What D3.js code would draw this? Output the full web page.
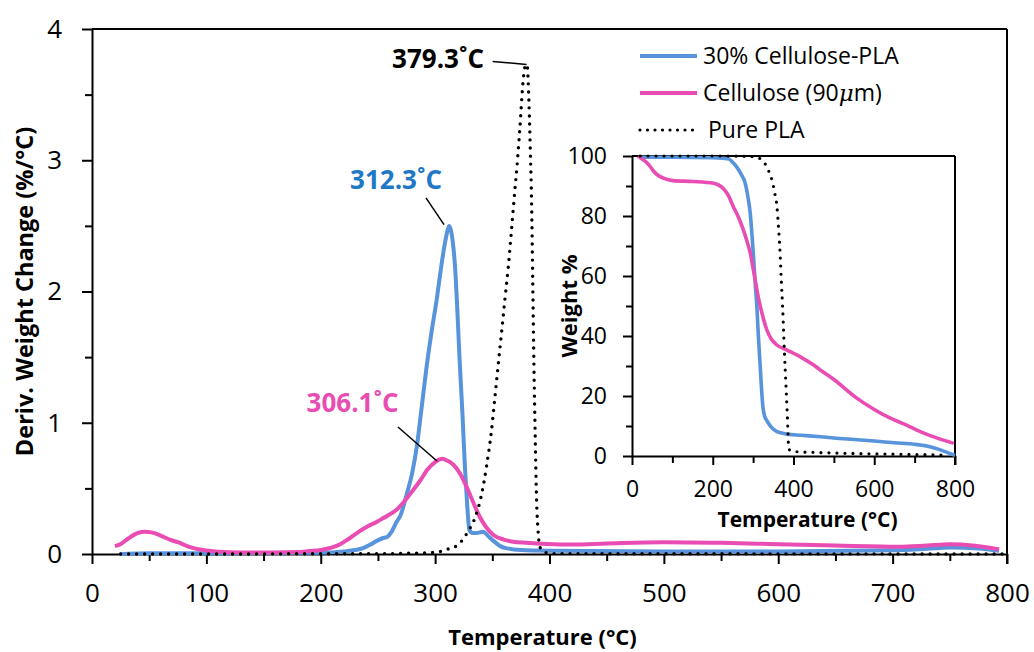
<!DOCTYPE html>
<html>
<head>
<meta charset="utf-8">
<script src="https://d3js.org/d3.v7.min.js"></script>
<style>
  body { margin: 0; background: #fff; }
  svg text { font-family: "Open Sans", "Noto Sans", sans-serif; fill: #000; }
  .axis path, .axis line { stroke: #000; stroke-width: 2; }
</style>
</head>
<body>
<script>
// ---- data ----
const seriesNames = ["30% Cellulose-PLA", "Cellulose (90μm)", "Pure PLA"];

// DTG curves: [temperature °C, deriv. weight change %/°C]
const dtgBlendT = [25, 50, 100, 150, 200, 220, 230, 237, 243, 249, 254, 258, 262, 266, 270, 275, 280, 284, 288, 292.6, 297, 301.4, 305, 308.6, 311, 312.3, 314, 317.4, 321.7, 324, 326, 328, 330, 333, 336, 342, 346, 351, 357, 363, 375, 400, 500, 600, 700, 730, 750, 775, 793];
const dtgBlendV = [0, 0.005, 0.005, 0.008, 0.01, 0.02, 0.03, 0.045, 0.07, 0.1, 0.12, 0.13, 0.17, 0.24, 0.3, 0.45, 0.62, 0.82, 1.1, 1.43, 1.7, 1.94, 2.17, 2.37, 2.47, 2.5, 2.46, 2.19, 1.43, 1.05, 0.67, 0.38, 0.18, 0.16, 0.16, 0.17, 0.14, 0.1, 0.06, 0.043, 0.03, 0.025, 0.02, 0.02, 0.028, 0.04, 0.05, 0.042, 0.025];

const dtgCellT = [20, 25, 32, 40, 46, 52, 60, 68, 75, 85, 97, 110, 130, 160, 180, 190, 200, 210, 217, 223, 230, 237, 243, 248, 252, 258, 266, 273, 281, 287, 293, 300, 306.1, 311, 316, 322, 327.6, 333, 339, 345, 351, 360, 368, 380, 398, 420, 450, 500, 550, 600, 650, 706, 730, 750, 770, 785, 793];
const dtgCellV = [0.06, 0.075, 0.12, 0.16, 0.17, 0.165, 0.14, 0.11, 0.09, 0.055, 0.03, 0.018, 0.012, 0.012, 0.015, 0.022, 0.03, 0.05, 0.075, 0.107, 0.15, 0.19, 0.22, 0.24, 0.26, 0.29, 0.335, 0.4, 0.49, 0.56, 0.64, 0.7, 0.725, 0.71, 0.68, 0.61, 0.51, 0.4, 0.284, 0.2, 0.145, 0.11, 0.094, 0.085, 0.076, 0.072, 0.08, 0.09, 0.085, 0.075, 0.065, 0.056, 0.065, 0.074, 0.065, 0.048, 0.036];

const dtgPlaT = [25, 100, 200, 260, 280, 295, 305, 312, 320, 328, 335, 340, 345, 349, 352, 355, 358, 361, 364, 366.5, 369, 372, 374, 377, 379.3, 380.5, 382, 383.3, 384.3, 385.4, 386.4, 387.5, 388.7, 390, 391, 393, 397, 405, 500, 800];
const dtgPlaV = [0, 0, 0.002, 0.003, 0.006, 0.01, 0.02, 0.04, 0.07, 0.16, 0.28, 0.43, 0.67, 0.92, 1.17, 1.43, 1.68, 1.94, 2.19, 2.44, 2.7, 3.0, 3.23, 3.61, 3.73, 3.72, 3.45, 3.05, 2.7, 2.05, 1.43, 0.9, 0.41, 0.18, 0.08, 0.03, 0.01, 0.003, 0.002, 0];

// TGA curves (inset): [temperature °C, weight %]
const tgaBlendT = [25, 100, 200, 240, 250, 260, 270, 280.4, 287, 292.8, 297, 301, 305, 309.3, 313, 317.6, 321, 324.2, 328, 334, 345, 359, 384, 420, 467, 500, 550, 600, 650, 700, 730, 760, 780, 800];
const tgaBlendV = [99.6, 99.6, 99.4, 99, 97.8, 96.2, 94, 90.9, 86.5, 80.9, 74, 66.4, 58, 49.8, 40, 29.8, 22, 16.4, 13.5, 11.8, 9.6, 8.1, 7.3, 6.9, 6.4, 6.0, 5.5, 5.0, 4.4, 3.9, 3.3, 2.2, 1.2, 0.2];

const tgaCellT = [15, 25, 35, 45, 53, 65, 78, 102, 150, 202, 215, 226, 238, 251, 264, 276, 285, 293, 300, 305, 312, 318, 326, 334, 345, 359, 384, 420, 450, 467, 500, 557.6, 600, 640, 680, 723, 760, 797];
const tgaCellV = [100, 99, 98, 96.5, 95, 93.5, 92.6, 91.8, 91.5, 90.9, 90.3, 89.2, 87, 83.1, 79.5, 75.3, 71.5, 67.6, 62.5, 58.7, 53.5, 49.8, 45.5, 42, 39, 37, 35.3, 32.8, 30.3, 28.6, 25.5, 19.2, 15.5, 12.6, 10.3, 7.6, 5.8, 4.2];

const tgaPlaT = [20, 100, 200, 300, 315, 326, 337, 346.5, 353, 359, 363, 367.2, 370, 373, 375.5, 378, 381, 383.8, 386, 388, 392, 400, 450, 500, 600, 700, 780];
const tgaPlaV = [100, 100, 100, 99.8, 99.3, 98.1, 95.5, 92, 88, 83.1, 76, 66.4, 58, 49.8, 41.5, 33.1, 24.5, 16.4, 9, 2.6, 1.8, 1.5, 1.2, 1.0, 0.7, 0.5, 0.3];

// peak labels: [text, label T, label value, leader from T, from value, to T, to value]
const peakLabels = [
  ["379.3˚C", 342.7, 3.70, 350.3, 3.752, 380, 3.73],
  ["312.3˚C", 265.8, 2.78, 292, 2.713, 307.8, 2.51],
  ["306.1˚C", 227.8, 1.082, 267.5, 0.968, 301.6, 0.709]
];

const mainXTicks = [0, 100, 200, 300, 400, 500, 600, 700, 800];
const mainYTicks = [0, 1, 2, 3, 4];
const insetXTicks = [0, 200, 400, 600, 800];
const insetYTicks = [0, 20, 40, 60, 80, 100];

// ---- drawing ----
const blue = "#5894DB", pink = "#E94DB3", blueText = "#1F78C6";
const colors = [blue, pink, "#000"];
const labelColors = ["#000", blueText, pink];
const fmt = d3.format("d");

const svg = d3.select("body").append("svg")
  .attr("width", 1034).attr("height", 652);

const x = d3.scaleLinear().domain([0, 800]).range([92, 1007]);
const y = d3.scaleLinear().domain([0, 4]).range([554, 29]);
const xi = d3.scaleLinear().domain([0, 800]).range([632, 955]);
const yi = d3.scaleLinear().domain([0, 100]).range([456, 156]);

function zip(t, v) { return t.map((d, i) => [d, v[i]]); }

// main axes
const gx = svg.append("g").attr("class", "axis")
  .attr("transform", "translate(0,554)")
  .call(d3.axisBottom(x).tickValues(mainXTicks).tickFormat(fmt).tickSize(10).tickSizeOuter(0).tickPadding(20));
svg.append("g").attr("class", "axis")
  .attr("transform", "translate(0,554)")
  .call(d3.axisBottom(x).tickValues(d3.range(50, 800, 100)).tickSize(7).tickFormat(""))
  .select(".domain").remove();
const gy = svg.append("g").attr("class", "axis")
  .attr("transform", "translate(92,0)")
  .call(d3.axisLeft(y).tickValues(mainYTicks).tickFormat(fmt).tickSize(10).tickSizeOuter(0).tickPadding(20));
svg.append("g").attr("class", "axis")
  .attr("transform", "translate(92,0)")
  .call(d3.axisLeft(y).tickValues([0.5, 1.5, 2.5, 3.5]).tickSize(7).tickFormat(""))
  .select(".domain").remove();
[gx, gy].forEach(g => g.selectAll("text").attr("font-size", 26).attr("font-family", "Open Sans"));

// frame top and right
svg.append("line").attr("x1", x(0)).attr("x2", x(800)).attr("y1", y(4)).attr("y2", y(4))
  .attr("stroke", "#000").attr("stroke-width", 2);
svg.append("line").attr("x1", x(800)).attr("x2", x(800)).attr("y1", y(4)).attr("y2", y(0) + 10)
  .attr("stroke", "#000").attr("stroke-width", 2);

// axis titles
svg.append("text").attr("x", (x(0) + x(800)) / 2 - 7).attr("y", 645)
  .attr("text-anchor", "middle").attr("font-weight", "bold").attr("font-size", 22)
  .text("Temperature (°C)");
svg.append("text").attr("transform", "translate(33," + ((y(0) + y(4)) / 2) + ") rotate(-90)")
  .attr("text-anchor", "middle").attr("font-weight", "bold").attr("font-size", 23.5)
  .text("Deriv. Weight Change (%/°C)");

// main curves
const line = d3.line().x(d => x(d[0])).y(d => y(d[1])).curve(d3.curveMonotoneX);
const dtg = [zip(dtgBlendT, dtgBlendV), zip(dtgCellT, dtgCellV), zip(dtgPlaT, dtgPlaV)];
dtg.forEach((data, i) => {
  const p = svg.append("path").datum(data).attr("d", line)
    .attr("fill", "none").attr("stroke", colors[i]);
  if (i == 2) p.attr("stroke-width", 3.4).attr("stroke-dasharray", "0 8").attr("stroke-linecap", "round");
  else p.attr("stroke-width", 4).attr("stroke-linejoin", "round");
});

// peak labels
peakLabels.forEach((d, i) => {
  svg.append("line")
    .attr("x1", x(d[3])).attr("y1", y(d[4])).attr("x2", x(d[5])).attr("y2", y(d[6]))
    .attr("stroke", "#000").attr("stroke-width", 1.5);
  svg.append("text").attr("x", x(d[1])).attr("y", y(d[2]))
    .attr("text-anchor", i == 0 ? "end" : "middle")
    .attr("font-weight", "bold").attr("font-size", 26)
    .style("fill", labelColors[i]).text(d[0]);
});

// legend
const legend = svg.append("g");
seriesNames.forEach((name, i) => {
  const ly = 56 + i * 37;
  const l = legend.append("line").attr("x1", 640).attr("x2", 697).attr("y1", ly).attr("y2", ly)
    .attr("stroke", colors[i]);
  if (i == 2) l.attr("stroke-width", 3.2).attr("stroke-dasharray", "0 7.5").attr("stroke-linecap", "round");
  else l.attr("stroke-width", 4);
  const t = legend.append("text").attr("x", i == 2 ? 708 : 703).attr("y", ly + 8).attr("font-size", 23);
  if (i == 1) {
    t.append("tspan").text("Cellulose (90");
    t.append("tspan").attr("font-style", "italic").attr("font-family", "DejaVu Serif").text("μ");
    t.append("tspan").text("m)");
  } else t.text(name);
});

// inset
const ix = svg.append("g").attr("class", "axis")
  .attr("transform", "translate(0,456)")
  .call(d3.axisBottom(xi).tickValues(insetXTicks).tickFormat(fmt).tickSize(9).tickSizeOuter(0).tickPadding(16));
svg.append("g").attr("class", "axis")
  .attr("transform", "translate(0,456)")
  .call(d3.axisBottom(xi).tickValues([100, 300, 500, 700]).tickSize(7).tickFormat(""))
  .select(".domain").remove();
const iy = svg.append("g").attr("class", "axis")
  .attr("transform", "translate(632,0)")
  .call(d3.axisLeft(yi).tickValues(insetYTicks).tickFormat(fmt).tickSize(9).tickSizeOuter(0).tickPadding(16));
svg.append("g").attr("class", "axis")
  .attr("transform", "translate(632,0)")
  .call(d3.axisLeft(yi).tickValues([10, 30, 50, 70, 90]).tickSize(6).tickFormat(""))
  .select(".domain").remove();
[ix, iy].forEach(g => g.selectAll("text").attr("font-size", 23).attr("font-family", "Open Sans"));

svg.append("line").attr("x1", xi(0)).attr("x2", xi(800)).attr("y1", yi(100)).attr("y2", yi(100))
  .attr("stroke", "#000").attr("stroke-width", 2);
svg.append("line").attr("x1", xi(800)).attr("x2", xi(800)).attr("y1", yi(100)).attr("y2", yi(0) + 9)
  .attr("stroke", "#000").attr("stroke-width", 2);

svg.append("text").attr("x", (xi(0) + xi(800)) / 2 + 14).attr("y", 527)
  .attr("text-anchor", "middle").attr("font-weight", "bold").attr("font-size", 21)
  .text("Temperature (°C)");
svg.append("text").attr("transform", "translate(577," + ((yi(0) + yi(100)) / 2) + ") rotate(-90)")
  .attr("text-anchor", "middle").attr("font-weight", "bold").attr("font-size", 22)
  .text("Weight %");

const iline = d3.line().x(d => xi(d[0])).y(d => yi(d[1])).curve(d3.curveMonotoneX);
const tga = [zip(tgaBlendT, tgaBlendV), zip(tgaCellT, tgaCellV), zip(tgaPlaT, tgaPlaV)];
tga.forEach((data, i) => {
  const p = svg.append("path").datum(data).attr("d", iline)
    .attr("fill", "none").attr("stroke", colors[i]);
  if (i == 2) p.attr("stroke-width", 3.2).attr("stroke-dasharray", "0 8").attr("stroke-linecap", "round");
  else p.attr("stroke-width", 3.6).attr("stroke-linejoin", "round");
});
</script>
</body>
</html>
